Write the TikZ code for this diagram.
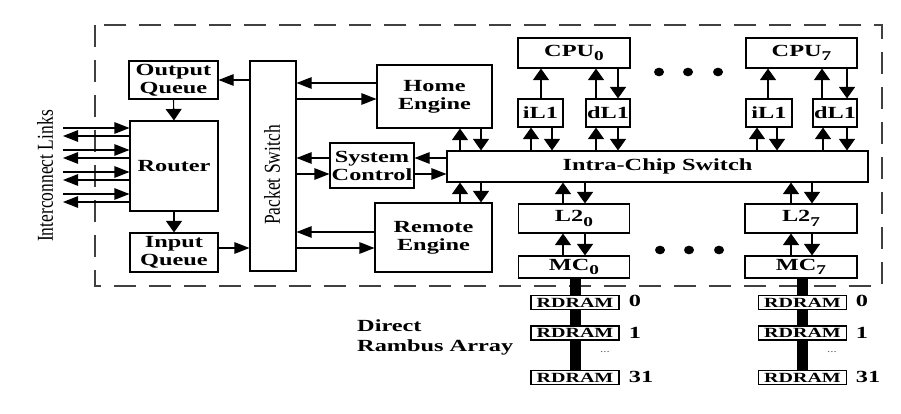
\documentclass[tikz,border=0pt]{standalone}
\usepackage{fontspec}
\setmainfont{Liberation Serif}
\usepackage{graphicx}
\usetikzlibrary{arrows.meta,backgrounds}
\newcommand{\sx}[1]{\scalebox{1.43}[1]{#1}}
\newcommand{\sy}[1]{\scalebox{1}[1.3]{#1}}
\newcommand{\sbs}[1]{\raisebox{-4.5pt}{\fontsize{13.5}{13.5}\selectfont #1}}
\begin{document}
\begin{tikzpicture}[x=1pt,y=-1pt,
  box/.style={draw, line width=1.1pt, fill=white, inner sep=0pt, align=center,
    font=\bfseries\fontsize{17}{18}\selectfont},
  rdbox/.style={draw, line width=1.6pt, fill=white, inner sep=0pt,
    minimum width=88pt, minimum height=14pt, font=\bfseries\fontsize{14}{14}\selectfont},
  lbl/.style={inner sep=0pt, font=\bfseries\fontsize{17}{20}\selectfont},
  rot/.style={rotate=90, inner sep=0pt, font=\fontsize{17.5}{20}\selectfont},
  ha/.style={-{Triangle[length=15pt,width=11.5pt]}, line width=1.1pt},
  va/.style={-{Triangle[length=11.5pt,width=16pt]}, line width=1.1pt},
  chip/.style={draw=black!75, line width=1.5pt, dash pattern=on 22pt off 13pt},
  bus/.style={line width=11pt},
  dot/.style={fill=black}
]
\useasboundingbox (0,0) rectangle (901,414);

% left part
\node[box, minimum width=89pt, minimum height=38pt] (oq) at (173.5,80) {\sx{Output}\\\sx{Queue}};
\node[box, minimum width=88pt, minimum height=90pt] (router) at (174,166) {\sx{Router}};
\node[box, minimum width=88pt, minimum height=39pt] (iq) at (174,252.5) {\sx{Input}\\\sx{Queue}};
\node[box, minimum width=46pt, minimum height=210pt] (ps) at (273,166) {};
\node[rot] (pst) at (272,175) {\sy{Packet Switch}};
\node[rot] (ilt) at (45,176) {\sy{Interconnect Links}};

% engines
\node[box, minimum width=115pt, minimum height=63pt] (he) at (434.5,96.5) {\sx{Home}\\\sx{Engine}};
\node[box, minimum width=84pt, minimum height=45pt] (sc) at (372,165.5) {\sx{System}\\\sx{Control}};
\node[box, minimum width=117pt, minimum height=69pt] (re) at (433.5,237.5) {\sx{Remote}\\\sx{Engine}};
\node[box, minimum width=421pt, minimum height=31pt] (ics) at (657.5,166.5) {\sx{Intra-Chip Switch}};

% processors
\node[box, minimum width=112pt, minimum height=30pt] (cpu0) at (574,53) {\sx{CPU\sbs{0}}};
\node[box, minimum width=45pt, minimum height=28pt] (il10) at (540.5,113) {\sx{iL1}};
\node[box, minimum width=44pt, minimum height=28pt] (dl10) at (608,113) {\sx{dL1}};
\node[box, minimum width=111pt, minimum height=30pt] (cpu7) at (801.5,53) {\sx{CPU\sbs{7}}};
\node[box, minimum width=46pt, minimum height=28pt] (il17) at (769,113) {\sx{iL1}};
\node[box, minimum width=44pt, minimum height=28pt] (dl17) at (835,113) {\sx{dL1}};

% L2 and MC
\node[box, minimum width=111pt, minimum height=29pt] (l20) at (574,218.5) {\sx{L2\sbs{0}}};
\node[box, minimum width=111pt, minimum height=22pt] (mc0) at (574,267) {\sx{MC\sbs{0}}};
\node[box, minimum width=112pt, minimum height=29pt] (l27) at (801,218.5) {\sx{L2\sbs{7}}};
\node[box, minimum width=112pt, minimum height=22pt] (mc7) at (801,267) {\sx{MC\sbs{7}}};

% RDRAM
\node[rdbox] (ra0) at (575,302.5) {\sx{RDRAM}};
\node[rdbox] (ra1) at (575,333) {\sx{RDRAM}};
\node[rdbox] (ra31) at (575,377.5) {\sx{RDRAM}};
\node[rdbox] (rb0) at (802.5,302.5) {\sx{RDRAM}};
\node[rdbox] (rb1) at (802.5,333) {\sx{RDRAM}};
\node[rdbox] (rb31) at (802.5,377.5) {\sx{RDRAM}};
\node[lbl] (na0) at (635,301) {\sx{0}};
\node[lbl] (na1) at (635,333) {\sx{1}};
\node[lbl] (na31) at (641,377) {\sx{31}};
\node[lbl] (nb0) at (862,301) {\sx{0}};
\node[lbl] (nb1) at (862,333) {\sx{1}};
\node[lbl] (nb31) at (868,377) {\sx{31}};
\node[inner sep=0pt, font=\fontsize{9}{9}\selectfont, text=black!70] (ea) at (605,352) {\sx{...}};
\node[inner sep=0pt, font=\fontsize{9}{9}\selectfont, text=black!70] (eb) at (832,352) {\sx{...}};
\node[lbl, anchor=west, align=left] (dra) at (357,337) {\sx{Direct}\\\sx{Rambus Array}};

% background: chip outline and buses
\begin{pgfonlayer}{background}
\draw[chip] (95,25) rectangle (882,286);
\draw[bus] (ra0.center |- mc0.south) -- (ra31.center);
\draw[bus] (rb0.center |- mc7.south) -- (rb31.center);
\end{pgfonlayer}

% dots
\foreach \xx in {659,688,718} {
  \fill[dot] (\xx,72) ellipse [x radius=5pt, y radius=4.3pt];
  \fill[dot] (\xx+1,250) ellipse [x radius=5pt, y radius=4.3pt];
}

% interconnect links
\foreach \k/\yi/\yo in {1/128/136,2/150/158,3/172/180,4/194/202} {
  \coordinate (lin\k) at (63,\yi);
  \coordinate (lout\k) at (63,\yo);
  \draw[ha] (lin\k) -- (router.west |- lin\k);
  \draw[ha] (router.west |- lout\k) -- (lout\k);
}

% left connectors
\draw[ha] (ps.west |- 0,80) -- (oq.east |- 0,80);
\draw[va] (oq.south) -- (router.north);
\draw[va] (router.south) -- (iq.north);
\draw[ha] (iq.east |- 0,248) -- (ps.west |- 0,248);

% engines <-> packet switch
\draw[ha] (he.west |- 0,83) -- (ps.east |- 0,83);
\draw[ha] (ps.east |- 0,99) -- (he.west |- 0,99);
\draw[ha] (sc.west |- 0,158) -- (ps.east |- 0,158);
\draw[ha] (ps.east |- 0,174) -- (sc.west |- 0,174);
\draw[ha] (ics.west |- 0,158) -- (sc.east |- 0,158);
\draw[ha] (sc.east |- 0,174) -- (ics.west |- 0,174);
\draw[ha] (re.west |- 0,232) -- (ps.east |- 0,232);
\draw[ha] (ps.east |- 0,248) -- (re.west |- 0,248);

% engines <-> intra-chip switch
\draw[va] (ics.north -| 460,0) -- (he.south -| 460,0);
\draw[va] (he.south -| 481,0) -- (ics.north -| 481,0);
\draw[va] (re.north -| 460,0) -- (ics.south -| 460,0);
\draw[va] (ics.south -| 481,0) -- (re.north -| 481,0);

% CPU0 group
\draw[va] (ics.north -| 531,0) -- (il10.south -| 531,0);
\draw[va] (il10.south -| 552,0) -- (ics.north -| 552,0);
\draw[va] (ics.north -| 596,0) -- (dl10.south -| 596,0);
\draw[va] (dl10.south -| 618,0) -- (ics.north -| 618,0);
\draw[va] (il10.north -| 541,0) -- (cpu0.south -| 541,0);
\draw[va] (dl10.north -| 596,0) -- (cpu0.south -| 596,0);
\draw[va] (cpu0.south -| 618,0) -- (dl10.north -| 618,0);

% CPU7 group
\draw[va] (ics.north -| 757,0) -- (il17.south -| 757,0);
\draw[va] (il17.south -| 777,0) -- (ics.north -| 777,0);
\draw[va] (ics.north -| 823,0) -- (dl17.south -| 823,0);
\draw[va] (dl17.south -| 847,0) -- (ics.north -| 847,0);
\draw[va] (il17.north -| 768,0) -- (cpu7.south -| 768,0);
\draw[va] (dl17.north -| 822,0) -- (cpu7.south -| 822,0);
\draw[va] (cpu7.south -| 847,0) -- (dl17.north -| 847,0);

% L2 / MC
\draw[va] (l20.north -| 563,0) -- (ics.south -| 563,0);
\draw[va] (ics.south -| 585,0) -- (l20.north -| 585,0);
\draw[va] (mc0.north -| 563,0) -- (l20.south -| 563,0);
\draw[va] (l20.south -| 585,0) -- (mc0.north -| 585,0);
\draw[va] (l27.north -| 791,0) -- (ics.south -| 791,0);
\draw[va] (ics.south -| 812,0) -- (l27.north -| 812,0);
\draw[va] (mc7.north -| 791,0) -- (l27.south -| 791,0);
\draw[va] (l27.south -| 812,0) -- (mc7.north -| 812,0);
\end{tikzpicture}
\end{document}
